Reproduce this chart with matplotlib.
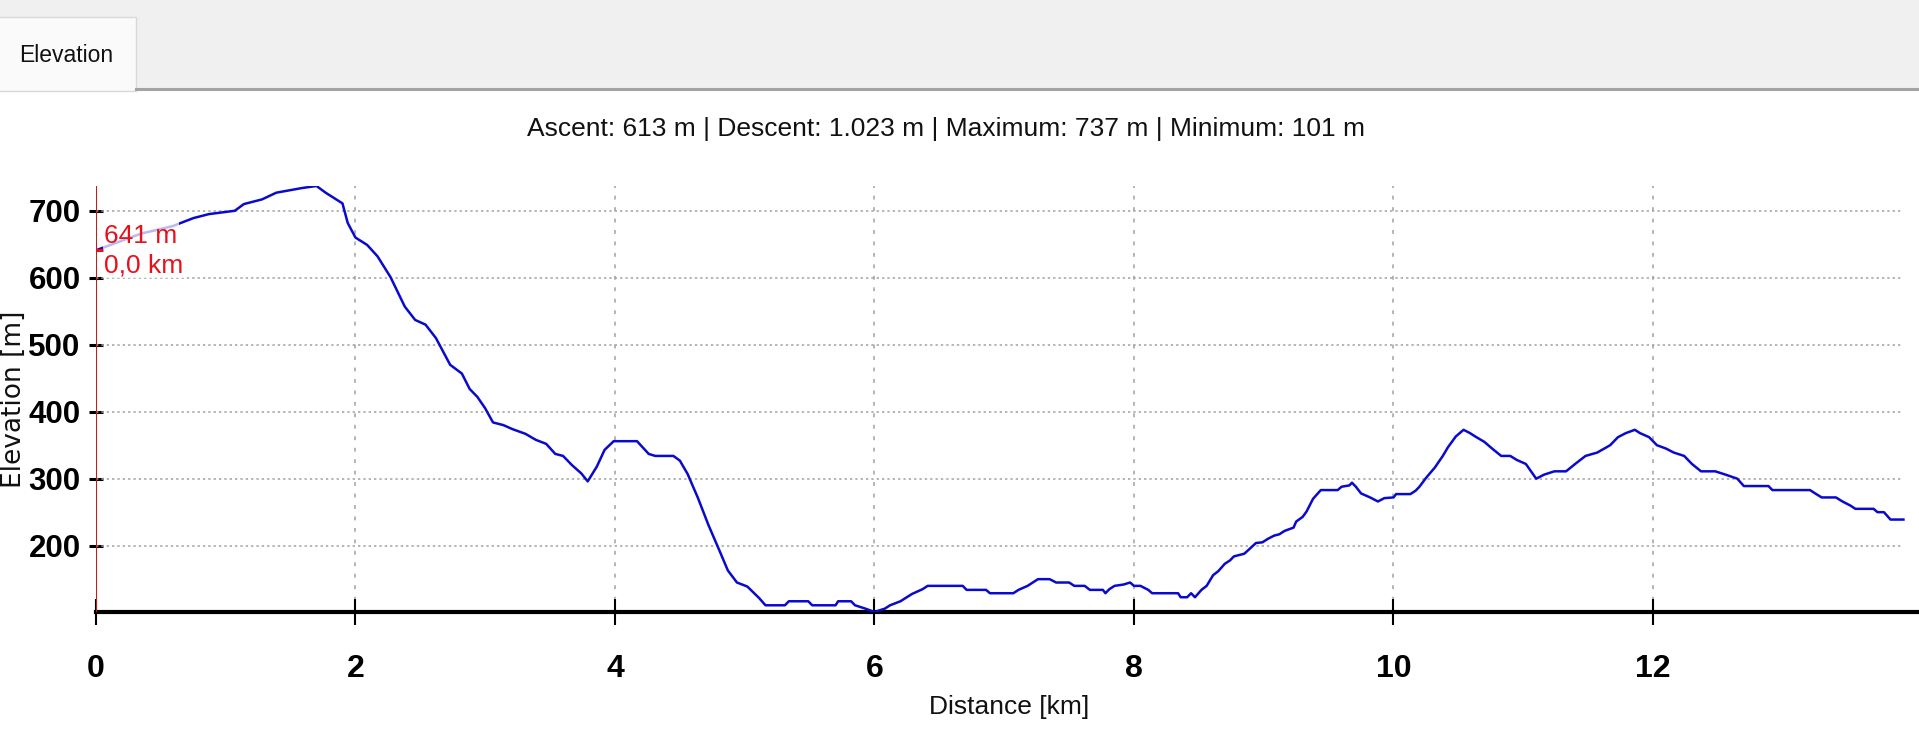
import matplotlib
matplotlib.use("Agg")
import matplotlib.pyplot as plt
from matplotlib.patches import Rectangle
from matplotlib.lines import Line2D

# profile (km, m)
dist_km = [0.00, 0.35, 0.59, 0.75, 0.87, 1.07, 1.14, 1.28, 1.39, 1.59, 1.70, 1.77, 1.90, 1.94,
           2.00, 2.09, 2.17, 2.27, 2.38, 2.46, 2.54, 2.62, 2.73, 2.82, 2.88, 2.94, 3.00, 3.06,
           3.14, 3.21, 3.31, 3.39, 3.47, 3.54, 3.60, 3.67, 3.74, 3.79, 3.86, 3.92, 3.99, 4.17,
           4.26, 4.31, 4.45, 4.50, 4.56, 4.64, 4.72, 4.80, 4.87, 4.94, 5.02, 5.11, 5.16, 5.31,
           5.34, 5.49, 5.52, 5.70, 5.72, 5.82, 5.85, 5.93, 6.00, 6.08, 6.12, 6.20, 6.29, 6.37,
           6.41, 6.68, 6.71, 6.86, 6.89, 7.07, 7.11, 7.18, 7.26, 7.35, 7.40, 7.50, 7.54, 7.62,
           7.66, 7.76, 7.78, 7.81, 7.85, 7.92, 7.97, 8.00, 8.05, 8.11, 8.14, 8.34, 8.36, 8.41,
           8.44, 8.47, 8.52, 8.56, 8.61, 8.65, 8.70, 8.74, 8.77, 8.85, 8.89, 8.94, 8.99, 9.03,
           9.08, 9.12, 9.16, 9.23, 9.25, 9.30, 9.33, 9.38, 9.44, 9.57, 9.60, 9.66, 9.68, 9.71,
           9.75, 9.82, 9.88, 9.93, 10.00, 10.02, 10.13, 10.17, 10.20, 10.25, 10.32, 10.38,
           10.42, 10.48, 10.54, 10.59, 10.63, 10.70, 10.76, 10.83, 10.90, 10.95, 11.02, 11.10,
           11.16, 11.24, 11.33, 11.40, 11.48, 11.57, 11.67, 11.73, 11.79, 11.86, 11.90, 11.97,
           12.03, 12.10, 12.16, 12.24, 12.30, 12.37, 12.48, 12.56, 12.65, 12.70, 12.89, 12.92,
           13.21, 13.25, 13.30, 13.41, 13.46, 13.52, 13.56, 13.70, 13.73, 13.78, 13.83, 13.93]
elev_m = [641, 666, 677, 689, 695, 700, 710, 717, 727, 734, 737, 727, 711, 682,
          660, 649, 632, 601, 557, 537, 530, 510, 470, 457, 434, 422, 405, 384,
          380, 374, 367, 358, 352, 337, 334, 320, 308, 296, 318, 343, 356, 356,
          337, 334, 334, 327, 307, 271, 231, 195, 163, 145, 139, 122, 111, 111,
          117, 117, 111, 111, 117, 117, 111, 106, 101, 106, 111, 117, 128, 135,
          140, 140, 134, 134, 129, 129, 134, 140, 150, 150, 145, 145, 140, 140,
          134, 134, 129, 135, 140, 142, 145, 140, 140, 134, 129, 129, 123, 123,
          129, 123, 134, 140, 156, 162, 173, 178, 184, 188, 195, 204, 205, 210,
          215, 217, 222, 227, 236, 243, 251, 270, 283, 283, 288, 290, 294, 288,
          278, 272, 266, 271, 272, 277, 277, 282, 288, 301, 317, 334,
          347, 363, 373, 368, 363, 355, 345, 334, 334, 328, 322, 300,
          306, 311, 311, 322, 334, 339, 350, 362, 368, 373, 368, 362,
          350, 345, 339, 334, 322, 311, 311, 306, 300, 289, 289, 283,
          283, 278, 272, 272, 266, 260, 255, 255, 250, 250, 239, 239]

x_ticks = [0, 2, 4, 6, 8, 10, 12]
y_ticks = [200, 300, 400, 500, 600, 700]
summary = "Ascent: 613 m | Descent: 1.023 m | Maximum: 737 m | Minimum: 101 m"
cursor_km = 0.0
cursor_m = 641

plt.rcParams['font.family'] = ['Liberation Sans Narrow', 'Liberation Sans', 'DejaVu Sans']

fig = plt.figure(figsize=(19.19, 7.36), dpi=100)
fig.patch.set_facecolor('white')

# tab strip at the top
fig.patches.append(Rectangle((0, 0.878), 1, 0.122, transform=fig.transFigure,
                             facecolor='#f0f0f0', edgecolor='none', zorder=0))
fig.patches.append(Rectangle((-0.01, 0.876), 0.0809, 0.101, transform=fig.transFigure,
                             facecolor='#fafafa', edgecolor='#d9d9d9', lw=1, zorder=1))
fig.lines.append(Line2D([0.0709, 1], [0.879, 0.879], transform=fig.transFigure,
                        color='#a3a3a3', lw=2.2, zorder=2))
fig.text(0.0099, 0.925, "Elevation", fontsize=16.5, ha='left', va='center', color='#111111')

fig.text(0.493, 0.8247, summary, fontsize=19, ha='center', va='center', color='#111111')

ax = fig.add_axes([0.0500, 0.1685, 0.95, 0.5788])
ax.set_xlim(0, 14.05)
ax.set_ylim(101, 737)

# grid
ax.hlines(y_ticks, 0, dist_km[-1], colors='#a0a0a0', linestyles=(0, (1.5, 2)), lw=1.1, zorder=1)
ax.set_xticks(x_ticks)
ax.set_yticks(y_ticks)
ax.xaxis.grid(True, color='#a0a0a0', linestyle=(0, (2.5, 5)), lw=1.1, zorder=1)
ax.set_axisbelow(True)

ax.plot(dist_km, elev_m, color='#0a0acd', lw=1.8, zorder=3)

for side in ['top', 'right', 'left']:
    ax.spines[side].set_visible(False)
ax.spines['bottom'].set_linewidth(3)
ax.spines['bottom'].set_color('black')

# red cursor line at the start
ax.axvline(cursor_km, color='#b8231c', lw=1.5, zorder=4)
ax.plot([cursor_km], [cursor_m], marker='_', ms=10, mew=2.2, color='#e8101a', zorder=6)

box = dict(facecolor='white', alpha=0.72, edgecolor='none', pad=1)
ax.annotate(f"{cursor_m} m", (cursor_km, cursor_m), xytext=(6, 2), textcoords='offset points',
            ha='left', va='bottom', fontsize=19, color='#e8101a', bbox=box, zorder=5)
ax.annotate(f"{cursor_km:.1f} km".replace('.', ','), (cursor_km, cursor_m), xytext=(6, -2),
            textcoords='offset points', ha='left', va='top', fontsize=19, color='#e8101a',
            bbox=box, zorder=5)

ax.tick_params(axis='x', direction='inout', length=19, width=1.5, pad=21,
               labelsize=23, colors='black')
ax.tick_params(axis='y', direction='inout', length=10, width=2.2, pad=6,
               labelsize=22.5, colors='black')
for lab in ax.get_xticklabels() + ax.get_yticklabels():
    lab.set_fontweight('bold')

ax.set_xlabel("Distance [km]", fontsize=19, color='#111111')
ax.xaxis.set_label_coords(0.501, -0.223)
ax.xaxis.label.set_va('center')
ax.set_ylabel("Elevation [m]", fontsize=19, family=['DejaVu Sans'], color='#111111')
ax.yaxis.set_label_coords(-0.0448, 0.5)
ax.yaxis.label.set_va('center')

fig.savefig("out.png", dpi=100)
